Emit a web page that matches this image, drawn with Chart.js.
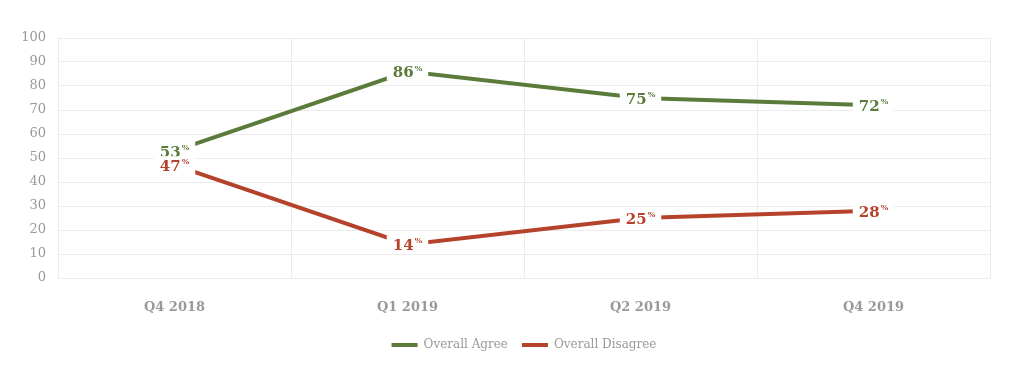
<!DOCTYPE html>
<html>
<head>
<meta charset="utf-8">
<script src="https://cdn.jsdelivr.net/npm/chart.js@4"></script>
<style>
    html, body { margin: 0; padding: 0; background: #ffffff; }
    #wrap { width: 1024px; height: 369px; }
</style>
</head>
<body>
<div id="wrap"><canvas id="trendChart" width="1024" height="369"></canvas></div>
<script>
// Chart data
const quarters = ['Q4 2018', 'Q1 2019', 'Q2 2019', 'Q4 2019'];
const agreeValues = [53, 86, 75, 72];
const disagreeValues = [47, 14, 25, 28];
const yTicks = [0, 10, 20, 30, 40, 50, 60, 70, 80, 90, 100];

const GREEN = '#5b7b3a';
const RED = '#b5432c';
const SLAB = "'DejaVu Serif', 'Liberation Serif', serif";

// Draws "53%" style labels on a white box over each point
const valueLabels = {
    id: 'valueLabels',
    afterDatasetsDraw(chart) {
        const ctx = chart.ctx;
        chart.data.datasets.forEach((ds, i) => {
            const meta = chart.getDatasetMeta(i);
            meta.data.forEach((pt, j) => {
                const num = String(ds.data[j]);
                ctx.save();
                ctx.font = 'bold 15px ' + SLAB;
                const w1 = ctx.measureText(num).width;
                ctx.font = 'bold 8px ' + SLAB;
                const w2 = ctx.measureText('%').width;
                const total = w1 + w2 + 1;
                const x0 = pt.x - total / 2;
                ctx.fillStyle = '#ffffff';
                ctx.fillRect(x0 - 6, pt.y - 9, total + 12, 18);
                ctx.fillStyle = ds.borderColor;
                ctx.textBaseline = 'middle';
                ctx.textAlign = 'left';
                ctx.font = 'bold 15px ' + SLAB;
                ctx.fillText(num, x0, pt.y + 2);
                ctx.font = 'bold 8px ' + SLAB;
                ctx.fillText('%', x0 + w1 + 1, pt.y - 3);
                ctx.restore();
            });
        });
    }
};

// Centre the legend under the plot area rather than the canvas
const legendShift = {
    id: 'legendShift',
    afterLayout(chart) {
        const lg = chart.legend;
        if (!lg) return;
        const dx = (chart.chartArea.left + chart.chartArea.right) / 2 - (lg.left + lg.right) / 2;
        lg.left += dx;
        lg.right += dx;
        lg.top -= 3;
        lg.bottom -= 3;
    }
};

const ctx = document.getElementById('trendChart');
new Chart(ctx, {
    type: 'line',
    data: {
        labels: quarters,
        datasets: [{
            label: 'Overall Agree',
            data: agreeValues,
            borderColor: GREEN,
            backgroundColor: GREEN,
            borderWidth: 4,
            pointRadius: 0,
            tension: 0
        }, {
            label: 'Overall Disagree',
            data: disagreeValues,
            borderColor: RED,
            backgroundColor: RED,
            borderWidth: 4,
            pointRadius: 0,
            tension: 0
        }]
    },
    options: {
        responsive: false,
        animation: false,
        layout: {
            padding: { left: 0, right: 34, top: 38, bottom: 5 }
        },
        plugins: {
            legend: {
                position: 'bottom',
                labels: {
                    color: '#999999',
                    font: { size: 12, family: SLAB },
                    boxWidth: 26,
                    boxHeight: 4,
                    useBorderRadius: true,
                    borderRadius: 2,
                    padding: 14,
                    generateLabels(chart) {
                        return chart.data.datasets.map((ds, i) => ({
                            text: ds.label,
                            fillStyle: ds.borderColor,
                            strokeStyle: ds.borderColor,
                            lineWidth: 0,
                            fontColor: '#999999',
                            datasetIndex: i
                        }));
                    }
                }
            },
            tooltip: { enabled: false }
        },
        scales: {
            x: {
                offset: true,
                grid: { offset: true, color: '#ececec', drawTicks: false },
                border: { color: '#ececec' },
                ticks: {
                    color: '#999999',
                    font: { size: 13, weight: 'bold', family: SLAB },
                    padding: 22
                },
                afterFit(scale) { scale.height = 50; }
            },
            y: {
                min: 0,
                max: 100,
                afterBuildTicks(scale) { scale.ticks = yTicks.map(v => ({ value: v })); },
                grid: { color: '#ececec', drawTicks: false },
                border: { color: '#ececec' },
                ticks: {
                    color: '#999999',
                    font: { size: 13, family: SLAB },
                    padding: 12
                },
                afterFit(scale) { scale.width = 58; }
            }
        }
    },
    plugins: [valueLabels, legendShift]
});
</script>
</body>
</html>
